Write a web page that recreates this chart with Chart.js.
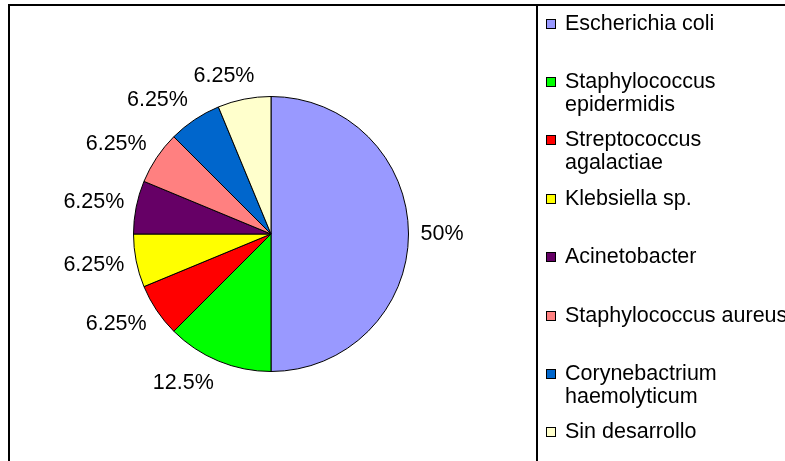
<!DOCTYPE html>
<html>
<head>
<meta charset="utf-8">
<script src="https://cdn.jsdelivr.net/npm/chart.js@4.4.0/dist/chart.umd.min.js"></script>
<style>
  html,body{margin:0;padding:0;background:#fff;}
  #wrap{position:relative;width:785px;height:461px;overflow:hidden;font-family:"Liberation Sans",Arial,sans-serif;}
  #pie{position:absolute;left:0;top:0;}
  #frame{position:absolute;left:8px;top:4px;width:900px;height:600px;border:2px solid #000;}
  #leg{position:absolute;left:536px;top:4px;width:300px;height:600px;border-left:2px solid #000;}
  .li{position:absolute;left:0;white-space:nowrap;font-size:21.5px;line-height:23px;color:#000;}
  .li i{position:absolute;left:8px;top:7px;width:8px;height:8px;border:1px solid #000;}
  .li span{display:block;padding-left:27px;}
</style>
</head>
<body>
<div id="wrap">
  <canvas id="pie" width="785" height="461"></canvas>
  <div id="frame"></div>
  <div id="leg"></div>
</div>
<script>
// ── données ──
const ORGANISMOS = [
  'Escherichia coli',
  ['Staphylococcus','epidermidis'],
  ['Streptococcus','agalactiae'],
  'Klebsiella sp.',
  'Acinetobacter',
  'Staphylococcus aureus',
  ['Corynebactrium','haemolyticum'],
  'Sin desarrollo'
];
const CASOS = [8, 2, 1, 1, 1, 1, 1, 1];
const COLORES = ['#9999FF','#00FF00','#FF0000','#FFFF00','#660066','#FF8080','#0066CC','#FFFFCC'];

const FONT = '21.5px "Liberation Sans", Arial, sans-serif';
const LABEL_GAP = 12;

function fmtPct(v){ return (+v.toFixed(2)) + '%'; }

// étiquettes de pourcentage à l'extérieur des secteurs
const pieLabels = {
  id: 'pieLabels',
  afterDatasetsDraw(chart){
    const ctx = chart.ctx;
    const meta = chart.getDatasetMeta(0);
    const data = chart.data.datasets[0].data;
    const total = data.reduce((s,v)=>s+v,0);
    ctx.save();
    ctx.font = FONT;
    ctx.fillStyle = '#000';
    ctx.textAlign = 'center';
    ctx.textBaseline = 'middle';
    meta.data.forEach((arc,i)=>{
      const p = arc.getProps(['x','y','startAngle','endAngle','outerRadius'], true);
      const mid = (p.startAngle + p.endAngle) / 2;
      const txt = fmtPct(data[i] / total * 100);
      const w = ctx.measureText(txt).width;
      const r = p.outerRadius + LABEL_GAP;
      const ax = p.x + Math.cos(mid) * r;
      const ay = p.y + Math.sin(mid) * r;
      const k = Math.max(-1, Math.min(1, 3 * Math.cos(mid)));
      ctx.fillText(txt, ax + k * w / 2, ay + Math.sin(mid) * 12);
    });
    ctx.restore();
  }
};

const chart = new Chart(document.getElementById('pie'), {
  type: 'pie',
  data: {
    labels: ORGANISMOS,
    datasets: [{
      data: CASOS,
      backgroundColor: COLORES,
      borderColor: '#000',
      borderWidth: 1
    }]
  },
  options: {
    responsive: false,
    animation: false,
    layout: { padding: { left: 133, right: 376, top: 96, bottom: 89 } },
    plugins: { legend: { display: false }, tooltip: { enabled: false } }
  },
  plugins: [pieLabels]
});

// légende à droite
const leg = document.getElementById('leg');
ORGANISMOS.forEach((lab,i)=>{
  const d = document.createElement('div');
  d.className = 'li';
  d.style.top = (23 + i * 58.4 - 11.5 - 4) + 'px';
  const lines = Array.isArray(lab) ? lab : [lab];
  d.innerHTML = `<i style="background:${COLORES[i]}"></i><span>${lines.join('<br>')}</span>`;
  leg.appendChild(d);
});
</script>
</body>
</html>
